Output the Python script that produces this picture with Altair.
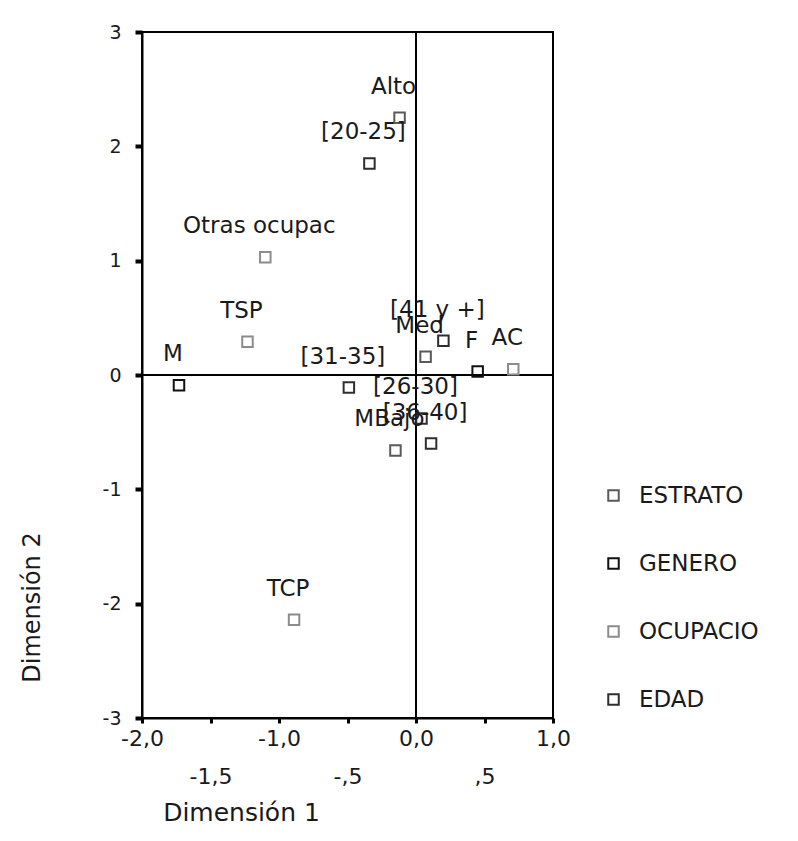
import altair as alt
import pandas as pd

# ---- data ----
labels = ["Alto", "Med", "MBajo",
          "M", "F",
          "Otras ocupac", "TSP", "TCP", "AC",
          "[20-25]", "[26-30]", "[31-35]", "[36-40]", "[41 y +]"]
groups = ["ESTRATO", "ESTRATO", "ESTRATO",
          "GENERO", "GENERO",
          "OCUPACIO", "OCUPACIO", "OCUPACIO", "OCUPACIO",
          "EDAD", "EDAD", "EDAD", "EDAD", "EDAD"]
dim1 = [-0.12, 0.07, -0.15,
        -1.73, 0.45,
        -1.10, -1.23, -0.89, 0.71,
        -0.34, 0.04, -0.49, 0.11, 0.20]
dim2 = [2.25, 0.16, -0.66,
        -0.09, 0.03,
        1.03, 0.29, -2.14, 0.05,
        1.85, -0.38, -0.11, -0.60, 0.30]

group_order = ["ESTRATO", "GENERO", "OCUPACIO", "EDAD"]
group_colors = ["#5a5a5a", "#111111", "#8c8c8c", "#2e2e2e"]

x_ticks = [-2.0, -1.5, -1.0, -0.5, 0.0, 0.5, 1.0]
y_ticks = [-3, -2, -1, 0, 1, 2, 3]
zero = [0]

FONT = "DejaVu Sans"
TXT = "#1a1a1a"

df = pd.DataFrame({"label": labels, "grupo": groups, "d1": dim1, "d2": dim2})
zdf = pd.DataFrame({"z": zero})

xs = alt.Scale(domain=[-2, 1], nice=False, zero=False)
ys = alt.Scale(domain=[-3, 3], nice=False, zero=False)

half_test = "abs(datum.value % 1) > 0.1"
x_label_expr = (
    "abs(datum.value % 1) > 0.1 ? "
    "replace(replace(replace(format(datum.value, '.1f'), '\u2212', '-'), '0.', '.'), '.', ',') : "
    "replace(replace(format(datum.value, '.1f'), '\u2212', '-'), '.', ',')"
)
y_label_expr = "replace(format(datum.value, 'd'), '\u2212', '-')"

x_axis = alt.Axis(
    values=x_ticks, labelExpr=x_label_expr, grid=False,
    domainColor="black", domainWidth=2,
    tickColor="black", tickWidth=3, tickSize=5,
    labelFont=FONT, labelFontSize=22, labelColor=TXT,
    labelPadding={"condition": {"test": half_test, "value": 43}, "value": 5},
    labelOverlap=False, labelFlush=False,
    title="Dimensión 1", titleFont=FONT, titleFontSize=25,
    titleFontWeight="normal", titleColor=TXT,
    titleX=99, titleY=94, titleAlign="center", titleBaseline="middle",
)
y_axis = alt.Axis(
    values=y_ticks, labelExpr=y_label_expr, grid=False,
    domainColor="black", domainWidth=2,
    tickColor="black", tickWidth=4, tickSize=7,
    labelFont=FONT, labelFontSize=19, labelColor=TXT, labelPadding=14,
    labelOverlap=False, labelFlush=False,
    title="Dimensión 2", titleFont=FONT, titleFontSize=24,
    titleFontWeight="normal", titleColor=TXT,
    titleX=-110, titleY=575, titleAlign="center", titleBaseline="middle",
)

vline = alt.Chart(zdf).mark_rule(color="black", strokeWidth=2).encode(
    x=alt.X("z:Q", scale=xs, axis=x_axis)
)
hline = alt.Chart(zdf).mark_rule(color="black", strokeWidth=2).encode(
    y=alt.Y("z:Q", scale=ys, axis=y_axis)
)

points = alt.Chart(df).mark_point(
    shape="square", filled=False, size=110, strokeWidth=2, opacity=1
).encode(
    x=alt.X("d1:Q", scale=xs, axis=x_axis),
    y=alt.Y("d2:Q", scale=ys, axis=y_axis),
    color=alt.Color(
        "grupo:N",
        scale=alt.Scale(domain=group_order, range=group_colors),
        sort=group_order,
        legend=alt.Legend(
            orient="none", legendX=460, legendY=452, title=None,
            labelFont=FONT, labelFontSize=23, labelColor=TXT,
            labelOffset=14, rowPadding=44, symbolSize=110,
            symbolStrokeWidth=2, symbolType="square", padding=0,
            labelLimit=300,
        ),
    ),
)

texts = alt.Chart(df).mark_text(
    dy=-31, dx=-6, fontSize=23, font=FONT, color=TXT
).encode(
    x=alt.X("d1:Q", scale=xs, axis=x_axis),
    y=alt.Y("d2:Q", scale=ys, axis=y_axis),
    text="label:N",
)

chart = alt.layer(vline, hline, points, texts).properties(
    width=411, height=686,
    autosize=alt.AutoSizeParams(type="none"),
    padding={"left": 134, "top": 24, "right": 230, "bottom": 110},
).configure_view(stroke="black", strokeWidth=2)

chart.save("out.html", embed_options={"renderer": "svg", "actions": False})
